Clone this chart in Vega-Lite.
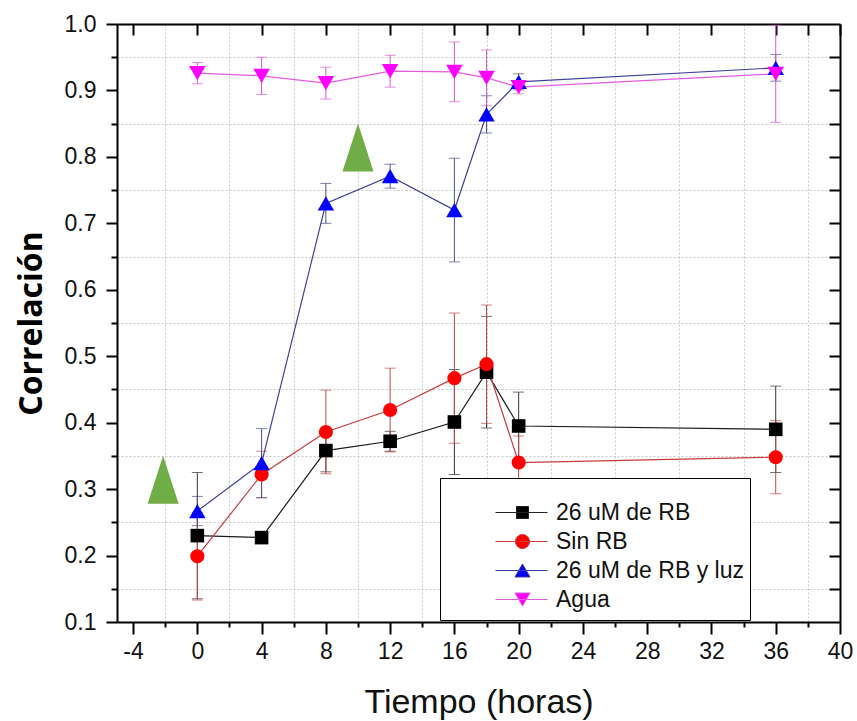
{
  "$schema": "https://vega.github.io/schema/vega-lite/v6.json",
  "width": 723,
  "height": 598,
  "autosize": "none",
  "padding": {"left": 117, "top": 24, "right": 17, "bottom": 99},
  "background": "white",
  "config": {"view": {"stroke": null}},
  "data": {"values": [
    {"t": 0, "s": "26 uM de RB", "v": 0.230, "e": 0.095},
    {"t": 4, "s": "26 uM de RB", "v": 0.227, "e": 0.005},
    {"t": 8, "s": "26 uM de RB", "v": 0.358, "e": 0.032},
    {"t": 12, "s": "26 uM de RB", "v": 0.372, "e": 0.015},
    {"t": 16, "s": "26 uM de RB", "v": 0.401, "e": 0.079},
    {"t": 18, "s": "26 uM de RB", "v": 0.476, "e": 0.084},
    {"t": 20, "s": "26 uM de RB", "v": 0.395, "e": 0.051},
    {"t": 36, "s": "26 uM de RB", "v": 0.390, "e": 0.065},
    {"t": 0, "s": "Sin RB", "v": 0.199, "e": 0.066},
    {"t": 4, "s": "Sin RB", "v": 0.322, "e": 0.035},
    {"t": 8, "s": "Sin RB", "v": 0.386, "e": 0.063},
    {"t": 12, "s": "Sin RB", "v": 0.419, "e": 0.063},
    {"t": 16, "s": "Sin RB", "v": 0.467, "e": 0.098},
    {"t": 18, "s": "Sin RB", "v": 0.488, "e": 0.089},
    {"t": 20, "s": "Sin RB", "v": 0.340, "e": 0.040},
    {"t": 36, "s": "Sin RB", "v": 0.348, "e": 0.055},
    {"t": 0, "s": "26 uM de RB y luz", "v": 0.267, "e": 0.022},
    {"t": 4, "s": "26 uM de RB y luz", "v": 0.339, "e": 0.052},
    {"t": 8, "s": "26 uM de RB y luz", "v": 0.730, "e": 0.030},
    {"t": 12, "s": "26 uM de RB y luz", "v": 0.771, "e": 0.018},
    {"t": 16, "s": "26 uM de RB y luz", "v": 0.720, "e": 0.078},
    {"t": 18, "s": "26 uM de RB y luz", "v": 0.864, "e": 0.028},
    {"t": 20, "s": "26 uM de RB y luz", "v": 0.913, "e": 0.012},
    {"t": 36, "s": "26 uM de RB y luz", "v": 0.934, "e": 0.020},
    {"t": 0, "s": "Agua", "v": 0.926, "e": 0.016},
    {"t": 4, "s": "Agua", "v": 0.922, "e": 0.028},
    {"t": 8, "s": "Agua", "v": 0.911, "e": 0.024},
    {"t": 12, "s": "Agua", "v": 0.929, "e": 0.024},
    {"t": 16, "s": "Agua", "v": 0.928, "e": 0.045},
    {"t": 18, "s": "Agua", "v": 0.919, "e": 0.042},
    {"t": 20, "s": "Agua", "v": 0.905, "e": 0.010},
    {"t": 36, "s": "Agua", "v": 0.925, "e": 0.073}
  ]},
  "resolve": {
    "axis": {"x": "independent", "y": "independent"},
    "scale": {"color": "independent"}
  },
  "layer": [
    {
      "mark": {"type": "errorbar", "ticks": {"size": 11, "thickness": 1}, "thickness": 1},
      "encoding": {
        "x": {"field": "t", "type": "quantitative", "scale": {"domain": [-5, 40], "nice": false, "zero": false}, "axis": null},
        "y": {"field": "v", "type": "quantitative", "scale": {"domain": [0.1, 1.0], "nice": false, "zero": false}, "axis": null},
        "yError": {"field": "e"},
        "color": {"field": "s", "type": "nominal", "legend": null,
          "scale": {"domain": ["26 uM de RB", "Sin RB", "26 uM de RB y luz", "Agua"], "range": ["#333333", "#c04848", "#50508a", "#d45ad4"]}}
      }
    },
    {
      "mark": {"type": "line", "strokeWidth": 1.2},
      "encoding": {
        "x": {"field": "t", "type": "quantitative", "scale": {"domain": [-5, 40], "nice": false, "zero": false},
          "axis": {
            "orient": "bottom",
            "values": [-4, -2, 0, 2, 4, 6, 8, 10, 12, 14, 16, 18, 20, 22, 24, 26, 28, 30, 32, 34, 36, 38, 40],
            "labelExpr": "datum.value % 4 === 0 ? '' + datum.value : ''",
            "labelOverlap": false, "labelFlush": false, "labelBound": false,
            "tickSize": {"condition": {"test": "datum.value % 4 === 0", "value": 12}, "value": 5},
            "grid": true,
            "gridOpacity": {"condition": {"test": "datum.value % 4 !== 0", "value": 1}, "value": 0},
            "gridDash": [2, 2], "gridColor": "#c8c8c8", "gridWidth": 1,
            "domainColor": "black", "domainWidth": 2, "tickColor": "black", "tickWidth": 2,
            "labelFont": "Liberation Sans", "labelFontSize": 23, "labelColor": "#111111", "labelPadding": 6,
            "title": "Tiempo (horas)", "titleFont": "Liberation Sans", "titleFontSize": 34, "titleFontWeight": "normal",
            "titleColor": "#111111", "titlePadding": 22
          }},
        "y": {"field": "v", "type": "quantitative", "scale": {"domain": [0.1, 1.0], "nice": false, "zero": false},
          "axis": {
            "orient": "left",
            "values": [0.1, 0.15, 0.2, 0.25, 0.3, 0.35, 0.4, 0.45, 0.5, 0.55, 0.6, 0.65, 0.7, 0.75, 0.8, 0.85, 0.9, 0.95, 1.0],
            "labelExpr": "round(datum.value * 100) % 10 === 0 ? format(datum.value, '.1f') : ''",
            "labelOverlap": false, "labelFlush": false, "labelBound": false,
            "tickSize": {"condition": {"test": "round(datum.value * 100) % 10 === 0", "value": 11}, "value": 6},
            "grid": true,
            "gridOpacity": {"condition": {"test": "round(datum.value * 100) % 10 !== 0", "value": 1}, "value": 0},
            "gridDash": [2, 2], "gridColor": "#c8c8c8", "gridWidth": 1,
            "domainColor": "black", "domainWidth": 2, "tickColor": "black", "tickWidth": 2,
            "labelFont": "Liberation Sans", "labelFontSize": 23, "labelColor": "#111111", "labelPadding": 10,
            "title": "Correlación", "titleFont": "Open Sans", "titleFontSize": 32, "titleFontWeight": "bold",
            "titleColor": "#000000", "titlePadding": 16
          }},
        "color": {"field": "s", "type": "nominal", "legend": null,
          "scale": {"domain": ["26 uM de RB", "Sin RB", "26 uM de RB y luz", "Agua"], "range": ["#1a1a1a", "#c83c3c", "#40409a", "#e35be3"]}}
      }
    },
    {
      "transform": [{"filter": "datum.s === '26 uM de RB'"}],
      "mark": {"type": "point", "filled": true, "opacity": 1, "strokeWidth": 0, "size": 185, "shape": "square", "color": "#000000"},
      "encoding": {
        "x": {"field": "t", "type": "quantitative", "scale": {"domain": [-5, 40], "nice": false, "zero": false},
          "axis": {
            "orient": "top",
            "values": [-4, 0, 4, 8, 12, 16, 18, 20, 24, 28, 32, 36, 38, 40],
            "labels": false, "grid": false, "title": null,
            "tickSize": -11, "domainColor": "black", "domainWidth": 2, "tickColor": "black", "tickWidth": 2
          }},
        "y": {"field": "v", "type": "quantitative", "scale": {"domain": [0.1, 1.0], "nice": false, "zero": false},
          "axis": {
            "orient": "right",
            "values": [0.15, 0.2, 0.25, 0.3, 0.35, 0.4, 0.45, 0.5, 0.55, 0.6, 0.65, 0.7, 0.75, 0.8, 0.85, 0.9, 0.95],
            "labels": false, "grid": false, "title": null,
            "tickSize": -11, "domainColor": "black", "domainWidth": 2, "tickColor": "black", "tickWidth": 2
          }}
      }
    },
    {
      "transform": [{"filter": "datum.s === 'Sin RB'"}],
      "mark": {"type": "point", "filled": true, "opacity": 1, "strokeWidth": 0, "size": 200, "shape": "circle", "color": "#ff0000"},
      "encoding": {
        "x": {"field": "t", "type": "quantitative", "scale": {"domain": [-5, 40], "nice": false, "zero": false}, "axis": null},
        "y": {"field": "v", "type": "quantitative", "scale": {"domain": [0.1, 1.0], "nice": false, "zero": false}, "axis": null}
      }
    },
    {
      "transform": [{"filter": "datum.s === '26 uM de RB y luz'"}],
      "mark": {"type": "point", "filled": true, "opacity": 1, "strokeWidth": 0, "size": 270, "shape": "triangle-up", "color": "#0000ff"},
      "encoding": {
        "x": {"field": "t", "type": "quantitative", "scale": {"domain": [-5, 40], "nice": false, "zero": false}, "axis": null},
        "y": {"field": "v", "type": "quantitative", "scale": {"domain": [0.1, 1.0], "nice": false, "zero": false}, "axis": null}
      }
    },
    {
      "transform": [{"filter": "datum.s === 'Agua'"}],
      "mark": {"type": "point", "filled": true, "opacity": 1, "strokeWidth": 0, "size": 270, "shape": "triangle-down", "color": "#ff00ff"},
      "encoding": {
        "x": {"field": "t", "type": "quantitative", "scale": {"domain": [-5, 40], "nice": false, "zero": false}, "axis": null},
        "y": {"field": "v", "type": "quantitative", "scale": {"domain": [0.1, 1.0], "nice": false, "zero": false}, "axis": null}
      }
    },
    {
      "data": {"values": [{"t": -2.13, "v": 0.314}, {"t": 10, "v": 0.814}]},
      "mark": {"type": "point", "filled": true, "opacity": 1, "strokeWidth": 0, "color": "#70ad47",
        "shape": "M0,-1L0.646,1L-0.646,1Z", "size": 2304},
      "encoding": {
        "x": {"field": "t", "type": "quantitative", "scale": {"domain": [-5, 40], "nice": false, "zero": false}, "axis": null},
        "y": {"field": "v", "type": "quantitative", "scale": {"domain": [0.1, 1.0], "nice": false, "zero": false}, "axis": null}
      }
    },
    {
      "data": {"values": []},
      "mark": {"type": "point", "filled": true, "opacity": 1, "strokeWidth": 1},
      "encoding": {
        "fill": {"field": "s", "type": "nominal",
          "scale": {"domain": ["26 uM de RB", "Sin RB", "26 uM de RB y luz", "Agua"], "range": ["#000000", "#ff0000", "#0000ff", "#ff00ff"]},
          "legend": {
            "orient": "none", "legendX": 323, "legendY": 454,
            "title": "                                                                                 ",
            "titleFontSize": 14, "titlePadding": 0, "titleLimit": 500,
            "strokeColor": "black", "fillColor": "white", "padding": 6, "cornerRadius": 0,
            "labelFont": "Liberation Sans", "labelFontSize": 23, "labelColor": "#111111", "labelOffset": 8, "labelLimit": 400,
            "symbolSize": 10201, "clipHeight": 29, "rowPadding": 0, "symbolOpacity": 1, "symbolStrokeWidth": 1
          }},
        "stroke": {"field": "s", "type": "nominal",
          "scale": {"domain": ["26 uM de RB", "Sin RB", "26 uM de RB y luz", "Agua"], "range": ["#222222", "#cc3b3b", "#3d3d9e", "#e05ce0"]}},
        "shape": {"field": "s", "type": "nominal",
          "scale": {"domain": ["26 uM de RB", "Sin RB", "26 uM de RB y luz", "Agua"], "range": [
            "M-0.03,0H1M0.386,-0.119H0.624V0.119H0.386Z",
            "M-0.03,0H1M0.366,0C0.366,-0.0768,0.428,-0.139,0.505,-0.139C0.582,-0.139,0.644,-0.0768,0.644,0C0.644,0.0768,0.582,0.139,0.505,0.139C0.428,0.139,0.366,0.0768,0.366,0Z",
            "M-0.03,0H1M0.505,-0.129L0.654,0.129L0.356,0.129Z",
            "M-0.03,0H1M0.356,-0.129L0.654,-0.129L0.505,0.129Z"]}}
      }
    }
  ]
}
